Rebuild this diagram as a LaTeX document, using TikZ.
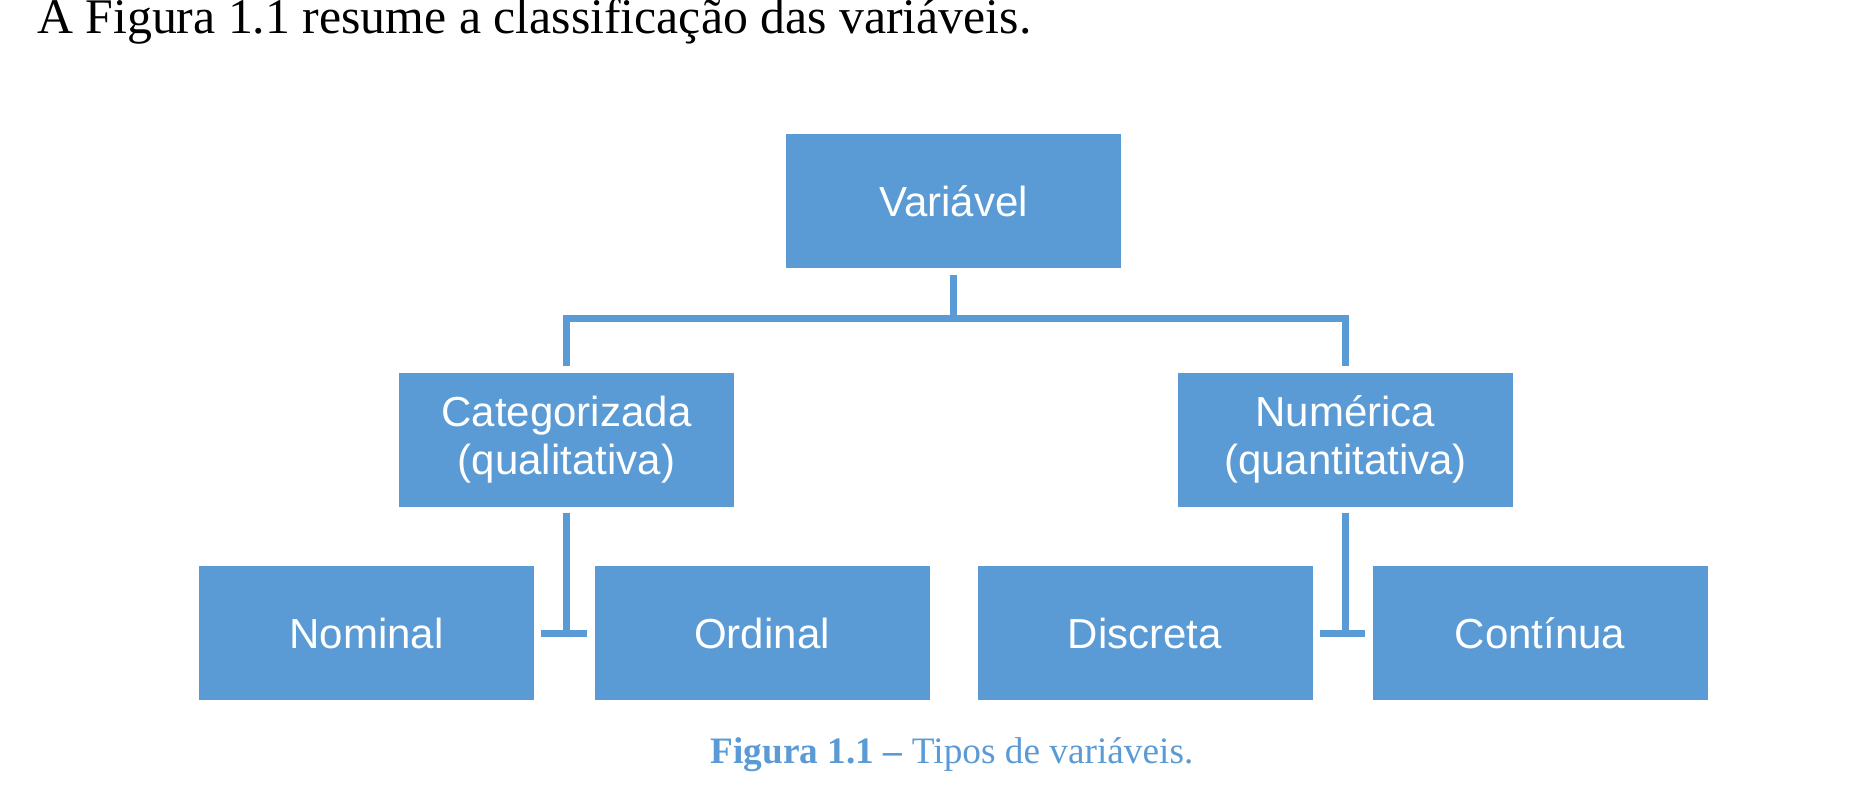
\documentclass[tikz,border=0pt]{standalone}
\usepackage{fontspec}
\setmainfont{Liberation Serif}
\newfontfamily\boxfont{Liberation Sans}
\usepackage{tikz}
\usetikzlibrary{calc}
\definecolor{azul}{RGB}{91,155,213}

\begin{document}
\begin{tikzpicture}[x=1pt,y=-1pt,
  caixa/.style={fill=azul,text=white,minimum width=335pt,minimum height=134pt,inner sep=0pt,align=center,font=\boxfont\fontsize{42}{48}\selectfont},
  ramo/.style={draw=azul,line width=7pt}]
\useasboundingbox (0,0) rectangle (1872,795);
\node[anchor=base west,inner sep=0pt,font=\fontsize{49.8}{52}\selectfont] (frase) at (37,34) {A Figura 1.1 resume a classificação das variáveis.};
\node[caixa] (var) at (953.5,201) {Variável};
\node[caixa] (cat) at (566.5,439.5) {Categorizada\\(qualitativa)};
\node[caixa] (num) at (1345.5,439.5) {Numérica\\(quantitativa)};
\node[caixa] (nom) at (366.5,633) {Nominal};
\node[caixa] (ord) at (762,633) {Ordinal};
\node[caixa] (dis) at (1145,633) {Discreta};
\node[caixa] (con) at (1540,633) {Contínua};
\coordinate (meio) at ($(var.south)+(0,50)$);
\draw[ramo] ([yshift=-7pt]var.south) -- (meio);
\draw[ramo] ([yshift=6pt]cat.north) |- (meio) -| ([yshift=6pt]num.north);
\draw[ramo] ([xshift=7pt]nom.east) -- ([xshift=-7pt]ord.west);
\draw[ramo] ([yshift=-6pt]cat.south) -- (cat.south |- ord.west);
\draw[ramo] ([xshift=7pt]dis.east) -- ([xshift=-7pt]con.west);
\draw[ramo] ([yshift=-6pt]num.south) -- (num.south |- con.west);
\node[anchor=base,inner sep=0pt,text=azul,font=\fontsize{37.3}{40}\selectfont] (legenda) at (952,763) {\textbf{Figura 1.1 –} Tipos de variáveis.};
\end{tikzpicture}
\end{document}
